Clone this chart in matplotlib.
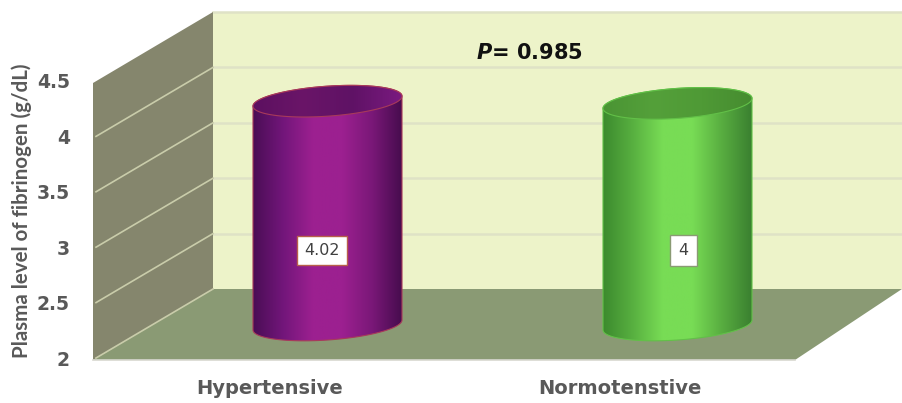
import matplotlib
matplotlib.use('Agg')
import matplotlib.pyplot as plt
from matplotlib.colors import LinearSegmentedColormap
from matplotlib.patches import Polygon
from matplotlib.transforms import Affine2D
import numpy as np

# Dados
categorias = ['Hypertensive', 'Normotenstive']
valores = [4.02, 4]
ticks = [2, 2.5, 3, 3.5, 4, 4.5]

# Cores
cor_parede = '#85866d'
cor_fundo = '#edf3c9'
cor_piso = '#8a9a74'
cor_grade = '#dfe2c6'
cor_grade_lado = '#c9ccaa'
cor_texto = '#595959'

plt.rcParams['mathtext.fontset'] = 'dejavusans'

fig = plt.figure(figsize=(9.02, 4.03), dpi=100)
ax = fig.add_axes([0, 0, 1, 1])
ax.axis('off')

# Escalas: 350 px por categoria, 110.8 px por unidade; o plano de fundo usa transData
px_x = 350.0
px_y = 110.8
xmin, xmax = -327.5 / px_x, (902 - 327.5) / px_x
ymin = 2 - (403 - 289) / px_y
ymax = 2 + 289 / px_y
ax.set_xlim(xmin, xmax)
ax.set_ylim(ymin, ymax)

# Planos em profundidade, deslocados em pixels a partir do fundo
plano_meio = ax.transData + Affine2D().translate(0, -36)
plano_frente = ax.transData + Affine2D().translate(-120, -71)
plano_rotulos = ax.transData + Affine2D().translate(-58, -99)


def px(x):
    return (x - 327.5) / px_x


# Parede de fundo
ax.add_patch(Polygon([(px(213), 2), (px(902), 2), (px(902), 4.5), (px(213), 4.5)],
                     closed=True, facecolor=cor_fundo, edgecolor='none', zorder=1))
for t in ticks[1:]:
    ax.plot([px(213), px(902)], [t, t], color=cor_grade, linewidth=1.8, zorder=2)

# Piso
piso_y = 2 - 71 / px_y
ax.add_patch(Polygon([(px(93), piso_y), (px(795), piso_y), (px(902), 2), (px(213), 2)],
                     closed=True, facecolor=cor_piso, edgecolor='none', zorder=2))
ax.plot([px(93), px(795)], [piso_y, piso_y], color='#d8d8d0', linewidth=1.2, zorder=3)

# Parede lateral
topo_y = 4.5 - 71 / px_y
ax.add_patch(Polygon([(px(93), piso_y), (px(213), 2), (px(213), 4.5), (px(93), topo_y)],
                     closed=True, facecolor=cor_parede, edgecolor='none', zorder=2))
for t in ticks[:-1]:
    ax.plot([px(96), px(213)], [t - 69 / px_y, t], color=cor_grade_lado, linewidth=1.2, zorder=3)

# Cilindros
largura = 149 / px_x
a = largura / 2
b = 15 / px_y
k = 5 / px_y
tt = np.linspace(0, 2 * np.pi, 200)

gradientes = [
    ['#4a0d55', '#72167a', '#9c2090', '#9c2090', '#7a1878', '#470c4e'],
    ['#3c8a2e', '#58b040', '#78dc55', '#78dc55', '#58ad40', '#3a8030'],
]
gradientes_topo = [
    ['#5c1060', '#6a1568', '#5f1265', '#7a1a80'],
    ['#4a9434', '#54a03a', '#4f9a36', '#468c30'],
]
cores_borda = ['#a83a5a', '#62c048']
bordas_caixa = ['#b8604a', '#8a9a74']
deslocamento_caixa = [-5.5, 6]
pad_caixa = [0.45, 0.5]

for i, (valor, cor_grad) in enumerate(zip(valores, gradientes)):
    ex = i + a * np.cos(tt)
    sombra = b * np.sin(tt) + k * np.cos(tt)

    # Contorno do corpo: metade inferior da base e metade superior do topo
    inf = np.linspace(0, np.pi, 100)
    sup = np.linspace(np.pi, 2 * np.pi, 100)
    corpo_x = np.r_[i + a * np.cos(inf), i + a * np.cos(sup)]
    corpo_y = np.r_[2 - b * np.sin(inf) + k * np.cos(inf),
                    valor - b * np.sin(sup) + k * np.cos(sup)]
    corpo = Polygon(np.c_[corpo_x, corpo_y], closed=True, transform=plano_meio,
                    facecolor='none', edgecolor=cores_borda[i], linewidth=0.8, zorder=6)
    ax.add_patch(corpo)

    cmap = LinearSegmentedColormap.from_list('cil', cor_grad)
    img = ax.imshow(np.linspace(0, 1, 256).reshape(1, -1), cmap=cmap, aspect='auto',
                    extent=(i - a, i + a, 1.7, valor + 0.3), transform=plano_meio, zorder=5)
    img.set_clip_path(corpo)

    # Face superior
    topo = Polygon(np.c_[ex, valor + sombra], closed=True, transform=plano_meio,
                   facecolor='none', edgecolor=cores_borda[i], linewidth=0.8, zorder=8)
    ax.add_patch(topo)
    cmap_topo = LinearSegmentedColormap.from_list('topo', gradientes_topo[i])
    img_topo = ax.imshow(np.linspace(0, 1, 256).reshape(1, -1), cmap=cmap_topo, aspect='auto',
                         extent=(i - a, i + a, valor - 0.3, valor + 0.3),
                         transform=plano_meio, zorder=7)
    img_topo.set_clip_path(topo)

    # Rótulo de valor
    ax.text(i + deslocamento_caixa[i] / px_x, 2.67, f'{valor:g}', transform=plano_meio,
            ha='center', va='center', fontsize=11.5, color='#404040', zorder=9,
            bbox=dict(boxstyle=f'square,pad={pad_caixa[i]}', facecolor='white',
                      edgecolor=bordas_caixa[i], linewidth=1))

    # Rótulo da categoria
    ax.text(i, 2, categorias[i], transform=plano_rotulos, ha='center', va='center',
            fontsize=14, fontweight='bold', color=cor_texto, zorder=9)

ax.set_xlim(xmin, xmax)
ax.set_ylim(ymin, ymax)

# Rótulos do eixo y
for t in ticks:
    ax.text(px(190), t, f'{t:g}', transform=plano_frente, ha='right', va='center',
            fontsize=13.5, fontweight='bold', color=cor_texto, zorder=9)

ax.text(px(22), 2 + (289 - 211) / px_y, 'Plasma level of fibrinogen (g/dL)', rotation=90,
        ha='center', va='center', family='Lato', fontsize=14.8, fontweight='bold',
        color=cor_texto, zorder=9)

# Valor de P
ax.text(px(529), 2 + (289 - 53) / px_y, r'$\mathbfit{P}$= 0.985', ha='center', va='center',
        fontsize=15, fontweight='bold', color='#111111', zorder=9)

fig.savefig('out.png', dpi=100)
